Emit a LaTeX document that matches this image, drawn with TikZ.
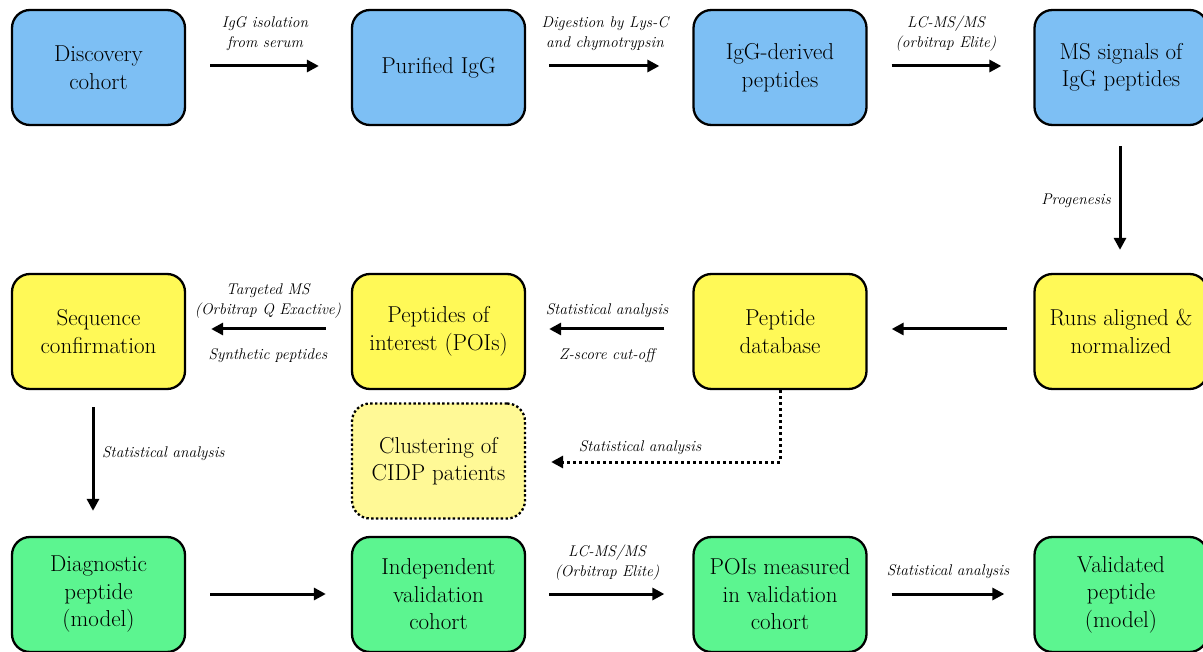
\documentclass[tikz,border=0pt]{standalone}
\usepackage{fontspec}
\usetikzlibrary{arrows.meta}
\definecolor{bluebox}{RGB}{125,191,244}
\definecolor{yellowbox}{RGB}{255,249,87}
\definecolor{paleyellow}{RGB}{255,249,150}
\definecolor{greenbox}{RGB}{92,245,144}
\tikzset{
  box/.style={draw=black, line width=2.3pt, rounded corners=18pt, minimum width=173pt, minimum height=115pt, align=center, font=\fontsize{23}{27.5}\selectfont, inner sep=2pt},
  bluen/.style={box, fill=bluebox},
  yellown/.style={box, fill=yellowbox},
  greenn/.style={box, fill=greenbox},
  dotbox/.style={box, fill=paleyellow, dash pattern=on 2.4pt off 2.4pt},
  arr/.style={line width=3pt, -{Triangle[length=12pt,width=12pt]}},
  dotarr/.style={line width=3pt, dash pattern=on 3pt off 3pt, -{Triangle[length=12pt,width=12pt]}},
  lab/.style={font=\fontsize{15.5}{20}\selectfont\itshape, align=center, inner sep=0pt}
}
\begin{document}
\begin{tikzpicture}[x=1pt,y=-1pt]
\useasboundingbox (0,0) rectangle (1203,652);
\clip (0,0) rectangle (1203,652);
% row 1
\node[bluen] (dc) at (98.5,67.5) {Discovery\\cohort};
\node[bluen] (pi) at (438.5,67.5) {Purified IgG};
\node[bluen] (dp) at (780,67.5) {IgG-derived\\peptides};
\node[bluen] (ms) at (1121,67.5) {MS signals of\\IgG peptides};
% row 2
\node[yellown] (sc) at (98.5,331.5) {Sequence\\confirmation};
\node[yellown] (poi) at (438.5,331.5) {Peptides of\\interest (POIs)};
\node[yellown] (pd) at (780,331.5) {Peptide\\database};
\node[yellown] (ra) at (1121,331.5) {Runs aligned \&\\normalized};
\node[dotbox] (cl) at (438.5,461) {Clustering of\\CIDP patients};
% row 3
\node[greenn] (diag) at (98.5,594.5) {Diagnostic\\peptide\\(model)};
\node[greenn] (ivc) at (438.5,594.5) {Independent\\validation\\cohort};
\node[greenn] (pm) at (780,594.5) {POIs measured\\in validation\\cohort};
\node[greenn] (vp) at (1121,594.5) {Validated\\peptide\\(model)};
% row 1 arrows
\draw[arr, shorten <=24pt, shorten >=32pt] (dc.east |- 0,66) -- (pi.west |- 0,66);
\draw[arr, shorten <=23pt, shorten >=33pt] (pi.east |- 0,66) -- (dp.west |- 0,66);
\draw[arr, shorten <=24pt, shorten >=32pt] (dp.east |- 0,66) -- (ms.west |- 0,66);
\node[lab] at (265,34) {IgG isolation\\from serum};
\node[lab] at (605,34) {Digestion by Lys-C\\and chymotrypsin};
\node[lab] at (946,34) {LC-MS/MS\\(orbitrap Elite)};
% vertical
\draw[arr, shorten <=20pt, shorten >=23pt] (ms.south -| 1120,0) -- (ra.north -| 1120,0);
\node[lab, anchor=east] at (1111,201) {Progenesis};
% row 2 arrows
\draw[arr, shorten <=26pt, shorten >=24pt] (ra.west |- 0,329) -- (pd.east |- 0,329);
\draw[arr, shorten <=28pt, shorten >=23pt] (pd.west |- 0,329) -- (poi.east |- 0,329);
\draw[arr, shorten <=25pt, shorten >=25pt] (poi.west |- 0,329) -- (sc.east |- 0,329);
\node[lab] at (607,311) {Statistical analysis};
\node[lab] at (607,356) {Z-score cut-off};
\node[lab] at (268,301) {Targeted MS\\(Orbitrap Q Exactive)};
\node[lab] at (268,356) {Synthetic peptides};
% left vertical
\draw[arr, shorten <=17pt, shorten >=25pt] (sc.south -| 93,0) -- (diag.north -| 93,0);
\node[lab, anchor=west] at (102,454) {Statistical analysis};
% dotted
\coordinate (dbend) at (780,462);
\draw[dotarr, shorten >=25pt] (pd.south) -- (dbend) -- (cl.east |- dbend);
\node[lab] at (640,448) {Statistical analysis};
% row 3 arrows
\draw[arr, shorten <=24pt, shorten >=25pt] (diag.east |- 0,594) -- (ivc.west |- 0,594);
\draw[arr, shorten <=23pt, shorten >=28pt] (ivc.east |- 0,594) -- (pm.west |- 0,594);
\draw[arr, shorten <=24pt, shorten >=29pt] (pm.east |- 0,594) -- (vp.west |- 0,594);
\node[lab] at (607,563) {LC-MS/MS\\(Orbitrap Elite)};
\node[lab] at (948,572) {Statistical analysis};
\end{tikzpicture}
\end{document}
